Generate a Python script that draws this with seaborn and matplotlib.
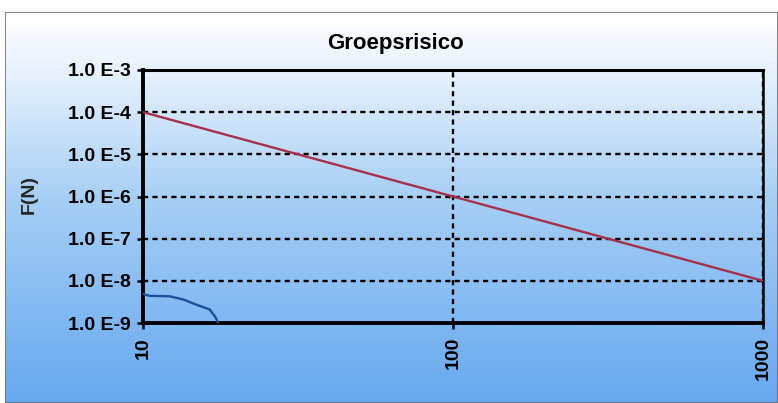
import numpy as np
import pandas as pd
import matplotlib
matplotlib.use("Agg")
import matplotlib.pyplot as plt
from matplotlib.colors import LinearSegmentedColormap
from matplotlib.patches import Rectangle
from matplotlib.ticker import FixedLocator, NullLocator
import seaborn as sns

# ---- data ----
title = "Groepsrisico"
ylabel = "F(N)"
x_ticks = [10, 100, 1000]
x_ticklabels = ["10", "100", "1000"]
y_ticks = [1e-9, 1e-8, 1e-7, 1e-6, 1e-5, 1e-4, 1e-3]
y_ticklabels = ["1.0 E-9", "1.0 E-8", "1.0 E-7", "1.0 E-6", "1.0 E-5", "1.0 E-4", "1.0 E-3"]

norm_n = [10, 100, 1000]
norm_f = [1e-4, 1e-6, 1e-8]

gr_n = [10, 10.5, 12.2, 13.5, 14.9, 16.4, 17.1, 17.4, 17.5]
gr_f = [4.9e-9, 4.4e-9, 4.3e-9, 3.6e-9, 2.7e-9, 2.1e-9, 1.4e-9, 1.09e-9, 1.0e-9]

sns.set_theme(style="white")
plt.rcParams['font.family'] = ['Liberation Sans', 'DejaVu Sans']

W, H = 778, 403
fig = plt.figure(figsize=(W / 100, H / 100), dpi=100)
fig.patch.set_facecolor("white")

# background gradient panel
bg = fig.add_axes([5 / W, 0, (W - 5) / W, (H - 12) / H])
bg.set_axis_off()
cmap = LinearSegmentedColormap.from_list(
    "bg",
    [(0.0, (1.0, 1.0, 1.0)),
     (0.12, (0.93, 0.96, 0.995)),
     (0.48, (0.65, 0.81, 0.96)),
     (1.0, (0.40, 0.66, 0.94))])
grad = np.linspace(0, 1, 256).reshape(-1, 1)
bg.imshow(grad, aspect="auto", cmap=cmap, extent=[0, 1, 1, 0])
bg.set_xlim(0, 1)
bg.set_ylim(1, 0)
bg.add_patch(Rectangle((0, 0), 1, 1, transform=bg.transAxes, fill=False,
                       edgecolor="#6e6e6e", lw=1.2))

ax = fig.add_axes([143 / W, 80 / H, 620 / W, 253 / H])
ax.set_facecolor("none")

df_norm = pd.DataFrame({"N": norm_n, "F": norm_f})
df_gr = pd.DataFrame({"N": gr_n, "F": gr_f})
sns.lineplot(data=df_norm, x="N", y="F", ax=ax, color="#a8304a", lw=1.7,
             sort=False, estimator=None, zorder=4)
sns.lineplot(data=df_gr, x="N", y="F", ax=ax, color="#1f4f9a", lw=1.7,
             sort=False, estimator=None, zorder=4)

ax.set_xscale("log")
ax.set_yscale("log")
ax.set_xlim(10, 1000)
ax.set_ylim(1e-9, 1e-3)
ax.xaxis.set_major_locator(FixedLocator(x_ticks))
ax.xaxis.set_minor_locator(NullLocator())
ax.yaxis.set_major_locator(FixedLocator(y_ticks))
ax.yaxis.set_minor_locator(NullLocator())
ax.set_xticklabels(x_ticklabels, rotation=90, fontweight="bold", fontsize=14)
ax.set_yticklabels(y_ticklabels, fontweight="bold", fontsize=14)
ax.tick_params(axis="both", which="major", direction="out", length=4, width=1.8,
               color="black", labelcolor="black", bottom=True, left=True)
ax.tick_params(axis="x", pad=6)
ax.tick_params(axis="y", pad=5)

ax.grid(True, which="major", color="black", lw=1.7, ls=(0, (2.2, 1.8)), zorder=1)
ax.set_axisbelow(True)

for side, lw in [("left", 2.8), ("bottom", 2.8), ("top", 2.2), ("right", 1.8)]:
    ax.spines[side].set_visible(True)
    ax.spines[side].set_color("black")
    ax.spines[side].set_linewidth(lw)

ax.set_xlabel("")
ax.set_ylabel(ylabel, fontweight="bold", fontsize=14)
ax.yaxis.set_label_coords((38 - 143) / 620, (323 - 195) / 253)

fig.text(395 / W, 1 - 43 / H, title, ha="center", va="center",
         fontweight="bold", fontsize=16, color="black")

fig.savefig("out.png", dpi=100)
